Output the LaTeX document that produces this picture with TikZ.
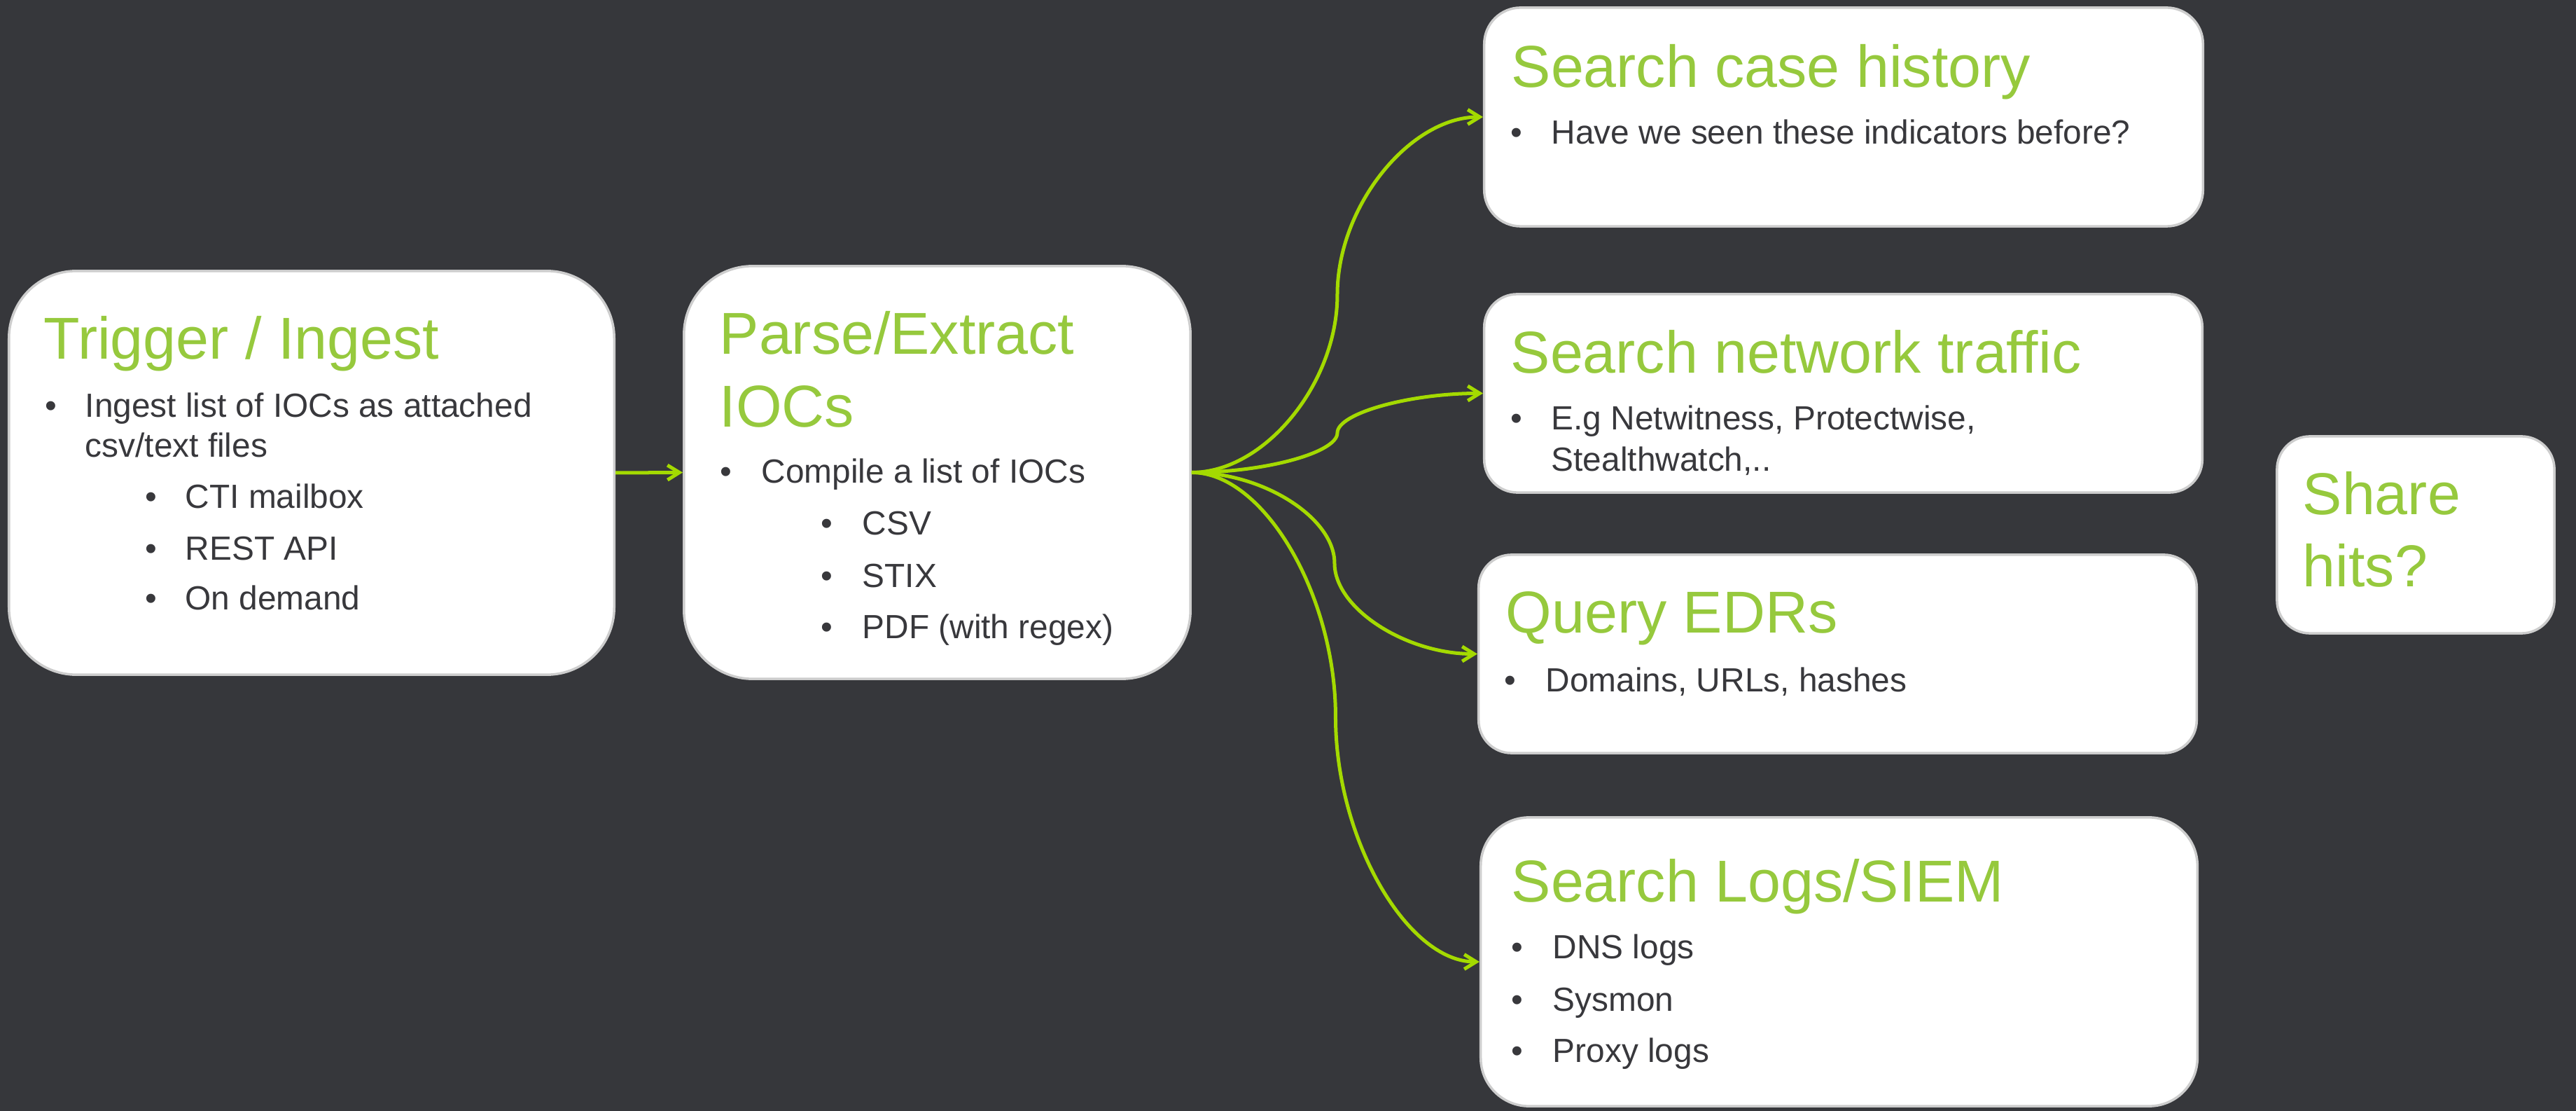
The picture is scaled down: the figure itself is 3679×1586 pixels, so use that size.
\documentclass[tikz,border=0pt]{standalone}
\usepackage{fontspec}
\setmainfont{Liberation Sans}
\usetikzlibrary{positioning,calc,arrows.meta}
\definecolor{bgdark}{RGB}{54,55,59}
\definecolor{ttlgreen}{RGB}{150,201,61}
\definecolor{linkgreen}{RGB}{164,218,0}
\definecolor{txtgray}{RGB}{56,56,60}
\definecolor{boxline}{RGB}{205,205,205}
\tikzset{
  box/.style={
    draw=boxline, fill=white, rectangle, inner sep=0mm, line width=0.035cm
  },
  ttl/.style={
    anchor=base west, inner sep=0mm, text=ttlgreen, font=\fontsize{24}{29}\selectfont
  },
  txt/.style={
    anchor=base west, inner sep=0mm, text=txtgray, font=\fontsize{13.6}{16}\selectfont
  },
  link/.style={
    draw=linkgreen, line width=0.05cm, -{Straight Barb[length=1.7mm,width=2.1mm]}
  }
}

\begin{document}
\begin{tikzpicture}[x=0.01cm,y=-0.01cm]
 \useasboundingbox (0,0) rectangle (3679,1586);
 \fill[bgdark] (0,0) rectangle (3679,1586);

 % boxes
 \node[box, rounded corners=0.96cm, minimum width=8.64cm, minimum height=5.76cm] (trig) at (445,675) {};
 \node[box, rounded corners=0.98cm, minimum width=7.23cm, minimum height=5.89cm] (parse) at (1338.5,674.5) {};
 \node[box, rounded corners=0.52cm, minimum width=10.26cm, minimum height=3.12cm] (case) at (2633,167) {};
 \node[box, rounded corners=0.47cm, minimum width=10.25cm, minimum height=2.83cm] (net) at (2632.5,561.5) {};
 \node[box, rounded corners=0.47cm, minimum width=10.25cm, minimum height=2.83cm] (edr) at (2624.5,933.5) {};
 \node[box, rounded corners=0.69cm, minimum width=10.23cm, minimum height=4.12cm] (logs) at (2626.5,1373) {};
 \node[box, rounded corners=0.47cm, minimum width=3.96cm, minimum height=2.81cm] (share) at (3450,763.5) {};

 % trigger / ingest
 \node[ttl] (trigT) at (62,513) {Trigger / Ingest};
 \node[txt] (trigB1) at (64,596) {•};
 \node[txt] (trigL1) at (121,596) {Ingest list of IOCs as attached};
 \node[txt] (trigL1b) at (121,653) {csv/text files};
 \node[txt] (trigB2) at (207,726) {•};
 \node[txt] (trigL2) at (264,726) {CTI mailbox};
 \node[txt] (trigB3) at (207,800) {•};
 \node[txt] (trigL3) at (264,800) {REST API};
 \node[txt] (trigB4) at (207,871) {•};
 \node[txt] (trigL4) at (264,871) {On demand};

 % parse / extract
 \node[ttl] (parseT) at (1027,506) {Parse/Extract};
 \node[ttl] (parseTb) at (1027,610) {IOCs};
 \node[txt] (parseB1) at (1028,690) {•};
 \node[txt] (parseL1) at (1087,690) {Compile a list of IOCs};
 \node[txt] (parseB2) at (1172,764) {•};
 \node[txt] (parseL2) at (1231,764) {CSV};
 \node[txt] (parseB3) at (1172,839) {•};
 \node[txt] (parseL3) at (1231,839) {STIX};
 \node[txt] (parseB4) at (1172,912) {•};
 \node[txt] (parseL4) at (1231,912) {PDF (with regex)};

 % searches
 \node[ttl] (caseT) at (2158,125) {Search case history};
 \node[txt] (caseB1) at (2157,206) {•};
 \node[txt] (caseL1) at (2215,206) {Have we seen these indicators before?};

 \node[ttl] (netT) at (2157,533) {Search network traffic};
 \node[txt] (netB1) at (2157,614) {•};
 \node[txt] (netL1) at (2215,614) {E.g Netwitness, Protectwise,};
 \node[txt] (netL1b) at (2215,673) {Stealthwatch,..};

 \node[ttl] (edrT) at (2150,904) {Query EDRs};
 \node[txt] (edrB1) at (2148,987) {•};
 \node[txt] (edrL1) at (2207,987) {Domains, URLs, hashes};

 \node[ttl] (logsT) at (2158,1287) {Search Logs/SIEM};
 \node[txt] (logsB1) at (2158,1368) {•};
 \node[txt] (logsL1) at (2217,1368) {DNS logs};
 \node[txt] (logsB2) at (2158,1443) {•};
 \node[txt] (logsL2) at (2217,1443) {Sysmon};
 \node[txt] (logsB3) at (2158,1516) {•};
 \node[txt] (logsL3) at (2217,1516) {Proxy logs};

 \node[ttl] (shareT) at (3288,735) {Share};
 \node[ttl] (shareTb) at (3288,838) {hits?};

 % connectors
 \draw[link] (trig.east) -- (parse.west);
 \foreach \t in {case,net,edr,logs} {
   \coordinate (q1) at ($(parse.east)!.25!(\t.west)$);
   \coordinate (m) at ($(parse.east)!.5!(\t.west)$);
   \coordinate (q3) at ($(parse.east)!.75!(\t.west)$);
   \draw[link] (parse.east) .. controls (q1 |- parse.east) and (m |- q1) .. (m)
     .. controls (m |- q3) and (q3 |- \t.west) .. (\t.west);
 }
\end{tikzpicture}
\end{document}
